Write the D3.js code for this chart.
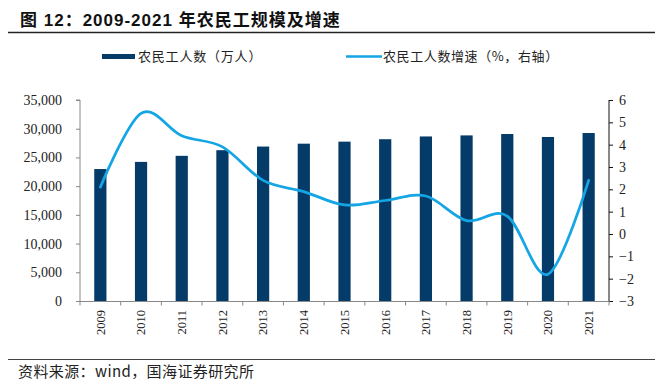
<!DOCTYPE html>
<html>
<head>
<meta charset="utf-8">
<script src="https://cdn.jsdelivr.net/npm/d3@7/dist/d3.min.js"></script>
<style>
  html, body { margin: 0; padding: 0; background: #fff; }
  svg { display: block; }
</style>
</head>
<body>
<script>
const years = ["2009","2010","2011","2012","2013","2014","2015","2016","2017","2018","2019","2020","2021"];
const workers = [22978, 24223, 25278, 26261, 26894, 27395, 27747, 28171, 28652, 28836, 29077, 28560, 29251];
const growth = [2.1, 5.4, 4.4, 3.9, 2.4, 1.9, 1.3, 1.5, 1.7, 0.6, 0.8, -1.8, 2.4];
const leftTicks = [0, 5000, 10000, 15000, 20000, 25000, 30000, 35000];
const rightTicks = [-3, -2, -1, 0, 1, 2, 3, 4, 5, 6];
const titleText = "图 12：2009-2021 年农民工规模及增速";
const legendBar = "农民工人数（万人）";
const legendLine = "农民工人数增速（%，右轴）";
const sourceText = "资料来源：wind，国海证券研究所";

(function () {
const W = 660, H = 392;
const pL = 80, pR = 609, pT = 100, pB = 301;
const barColor = "#053b69", lineColor = "#14a5e4";
const cjk = "'Noto Sans CJK SC', 'Noto Sans', sans-serif";
const serif = "'Liberation Serif', 'DejaVu Serif', serif";

const svg = d3.select("body").append("svg").attr("width", W).attr("height", H);
svg.append("rect").attr("width", W).attr("height", H).attr("fill", "#fff");

// Title
svg.append("text").attr("x", 20).attr("y", 26)
  .attr("font-family", "'Liberation Sans', " + cjk).attr("font-weight", "bold")
  .attr("font-size", 17).attr("letter-spacing", 1).attr("fill", "#111").text(titleText);
svg.append("line").attr("x1", 8).attr("x2", 655).attr("y1", 32.5).attr("y2", 32.5)
  .attr("stroke", "#222").attr("stroke-width", 1.3);

// Scales
const x = d3.scaleBand().domain(years).range([pL, pR]).paddingInner(0.7).paddingOuter(0.35);
const xb = d3.scaleBand().domain(years).range([pL, pR]).padding(0);
const yL = d3.scaleLinear().domain([0, 35000]).range([pB, pT]);
const yR = d3.scaleLinear().domain([-3, 6]).range([pB, pT]);

// Bars
svg.append("g").selectAll("rect").data(workers).join("rect")
  .attr("x", (d, i) => x(years[i]))
  .attr("width", x.bandwidth())
  .attr("y", d => yL(d))
  .attr("height", d => yL(0) - yL(d))
  .attr("fill", barColor);

// Left axis
const gL = svg.append("g").attr("transform", `translate(${pL},0)`)
  .call(d3.axisLeft(yL).tickValues(leftTicks).tickFormat(d3.format(",")).tickSize(4).tickPadding(14));
gL.select(".domain").attr("stroke", "#888").attr("d", `M-4,${pT}H0V${pB}`);
gL.selectAll(".tick line").attr("stroke", "#888");
gL.selectAll("text").attr("font-family", serif).attr("font-size", 14).attr("fill", "#222");

// Right axis
const gR = svg.append("g").attr("transform", `translate(${pR},0)`)
  .call(d3.axisRight(yR).tickValues(rightTicks).tickFormat(d3.format("d")).tickSize(4).tickPadding(6));
gR.select(".domain").attr("stroke", "#111").attr("d", `M0,${pT}V${pB}`);
gR.selectAll(".tick line").attr("stroke", "#111");
gR.selectAll("text").attr("font-family", serif).attr("font-size", 14).attr("fill", "#222");

// X axis
const gX = svg.append("g");
gX.append("line").attr("x1", pL).attr("x2", pR).attr("y1", pB + 0.5).attr("y2", pB + 0.5)
  .attr("stroke", "#888");
const bounds = years.map(y => xb(y)).concat([pR]);
gX.selectAll("line.tk").data(bounds).join("line").attr("class", "tk")
  .attr("x1", d => d).attr("x2", d => d).attr("y1", pB).attr("y2", pB + 4.5)
  .attr("stroke", "#888");
gX.selectAll("text").data(years).join("text")
  .attr("transform", d => `translate(${x(d) + x.bandwidth() / 2},310) rotate(-90)`)
  .attr("text-anchor", "end").attr("dy", "0.35em")
  .attr("font-family", serif).attr("font-size", 12.5).attr("fill", "#222")
  .text(d => d);

// Line
const line = d3.line()
  .x((d, i) => x(years[i]) + x.bandwidth() / 2)
  .y(d => yR(d))
  .curve(d3.curveCardinal.tension(0));
svg.append("path").datum(growth).attr("d", line)
  .attr("fill", "none").attr("stroke", lineColor).attr("stroke-width", 2.75)
  .attr("stroke-linecap", "round").attr("stroke-linejoin", "round");

// Legend
const lg = svg.append("g");
lg.append("rect").attr("x", 102).attr("y", 54).attr("width", 33).attr("height", 5).attr("fill", barColor);
lg.append("text").attr("x", 138).attr("y", 61).attr("font-family", cjk).attr("font-size", 13)
  .attr("letter-spacing", 0.8).attr("fill", "#222").text(legendBar);
lg.append("line").attr("x1", 346).attr("x2", 382).attr("y1", 56.5).attr("y2", 56.5)
  .attr("stroke", lineColor).attr("stroke-width", 2.5);
lg.append("text").attr("x", 383).attr("y", 61).attr("font-family", cjk).attr("font-size", 13)
  .attr("letter-spacing", 0.6).attr("fill", "#222").text(legendLine);

// Footer
svg.append("line").attr("x1", 8).attr("x2", 655).attr("y1", 359.5).attr("y2", 359.5)
  .attr("stroke", "#444").attr("stroke-width", 1);
svg.append("text").attr("x", 18).attr("y", 377).attr("font-family", cjk).attr("font-size", 15)
  .attr("letter-spacing", 0.4).attr("fill", "#222").text(sourceText);
})();
</script>
</body>
</html>
